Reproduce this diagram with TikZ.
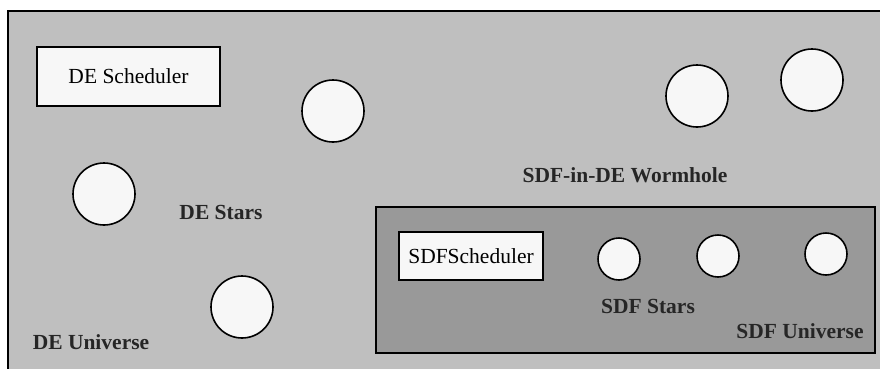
\documentclass[tikz,border=0pt]{standalone}
\usepackage{fontspec}
\setmainfont{Liberation Serif}
\tikzset{every node/.style={font=\fontsize{21.5}{25}\selectfont},line cap=round,line join=round}
\tikzset{
  schedbox/.style={draw,line width=1.6pt,fill=white!94!gray,rectangle,inner sep=0pt},
  bigstar/.style={draw,line width=1.6pt,fill=white!94!gray,circle,minimum size=62pt,inner sep=0pt},
  smallstar/.style={draw,line width=1.6pt,fill=white!94!gray,circle,minimum size=42pt,inner sep=0pt},
  tag/.style={font=\fontsize{21.5}{25}\selectfont\bfseries,text=black!85}
}

\begin{document}
\begin{tikzpicture}[x=1pt,y=-1pt]
  \path[use as bounding box] (0,0) rectangle (880,368);
  % DE universe with its scheduler and stars
  \draw[line width=1.6pt,fill=gray!50] (8,11) rectangle (884,372);
  \node[schedbox,minimum width=183pt,minimum height=59pt] (desched) at (128.5,76.5) {DE Scheduler};
  \node[bigstar] (destara) at (333,111) {};
  \node[bigstar] (destarb) at (104,194) {};
  \node[bigstar] (destarc) at (242,307) {};
  \node[bigstar] (wormstara) at (697,96) {};
  \node[bigstar] (wormstarb) at (812,80) {};
  \node[tag] (destars) at (221,212) {DE Stars};
  \node[tag] (deuniv) at (91,342) {DE Universe};
  \node[tag] (wormhole) at (625,175) {SDF-in-DE Wormhole};

  % SDF universe inside the wormhole
  \draw[line width=1.6pt,fill=gray!80] (376,207) rectangle (875,353);
  \node[schedbox,minimum width=144pt,minimum height=48pt] (sdfsched) at (471,256) {SDFScheduler};
  \node[smallstar] (sdfstara) at (619,259) {};
  \node[smallstar] (sdfstarb) at (718,256) {};
  \node[smallstar] (sdfstarc) at (826,254) {};
  \node[tag] (sdfstars) at (648,306) {SDF Stars};
  \node[tag] (sdfuniv) at (800,331) {SDF Universe};
\end{tikzpicture}
\end{document}
